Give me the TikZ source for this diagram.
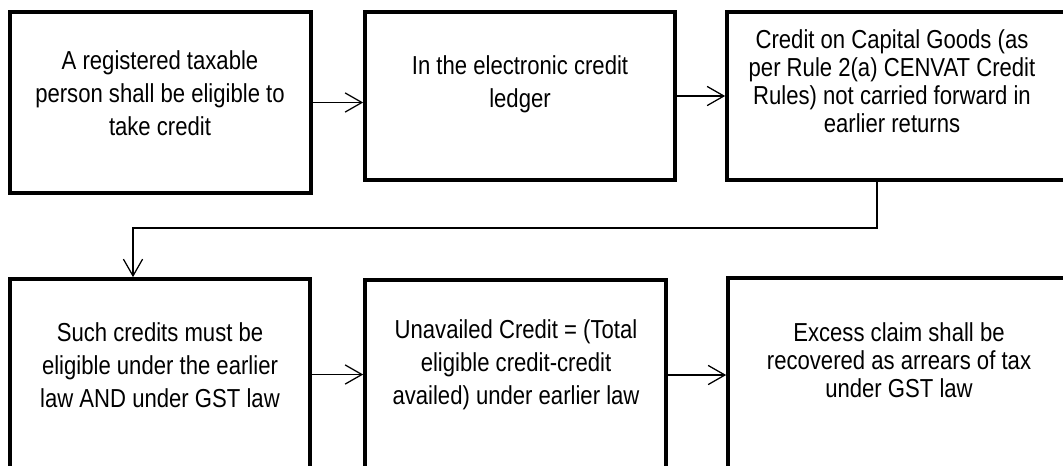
\documentclass[tikz,border=0pt]{standalone}
\usepackage{fontspec}
\setmainfont{Liberation Sans}[FakeStretch=0.85]
\usepackage{tikz}
\usetikzlibrary{arrows.meta, positioning}

\begin{document}
\begin{tikzpicture}[
    box/.style={draw, line width=2.6pt, rectangle, inner sep=0pt},
    txt/.style={align=center, font=\fontsize{18.5}{23.5}\selectfont},
    txtn/.style={align=center, font=\fontsize{18.5}{19.8}\selectfont},
    flow/.style={line width=0.9pt, -{Straight Barb[length=4.2mm, width=4.8mm, line width=0.9pt]}}
]
    \useasboundingbox (0,0) rectangle (26.575,-11.625);
    \clip (0,0) rectangle (26.575,-11.625);

    % Boxes
    \node[box, minimum width=7.525cm, minimum height=4.525cm] (b1) at (4.0125, -2.5625) {};
    \node[box, minimum width=7.75cm, minimum height=4.2cm] (b2) at (13.0, -2.4) {};
    \node[box, minimum width=8.7cm, minimum height=4.2cm] (b3) at (22.525, -2.4) {};
    \node[box, minimum width=7.5cm, minimum height=4.775cm] (b4) at (4.0, -9.3625) {};
    \node[box, minimum width=7.525cm, minimum height=4.75cm] (b5) at (12.8875, -9.375) {};
    \node[box, minimum width=8.675cm, minimum height=4.8cm] (b6) at (22.5375, -9.35) {};

    % Texts
    \node[txt] (t1) at (4.0, -2.325) {A registered taxable\\person shall be eligible to\\take credit};
    \node[txt] (t2) at (13.0, -2.1) {In the electronic credit\\ledger};
    \node[txtn] (t3) at (22.3, -2.025) {Credit on Capital Goods (as\\per Rule 2(a) CENVAT Credit\\Rules) not carried forward in\\earlier returns};
    \node[txt] (t4) at (4.0, -9.125) {Such credits must be\\eligible under the earlier\\law AND under GST law};
    \node[txt] (t5) at (12.9, -9.125) {Unavailed Credit = (Total\\eligible credit-credit\\availed) under earlier law};
    \node[txtn] (t6) at (22.475, -9.0) {Excess claim shall be\\recovered as arrears of tax\\under GST law};

    % Arrows
    \coordinate (k1) at (21.925, -5.7);
    \coordinate (k2) at (3.325, -5.7);
    \draw[flow] (b1.east) -- (b1.east -| b2.west);
    \draw[flow] (b2.east) -- (b2.east -| b3.west);
    \draw[flow] (b3.south -| k1) -- (k1) -- (k2) -- (k2 |- b4.north);
    \draw[flow] (b4.east) -- (b4.east -| b5.west);
    \draw[flow] (b5.east) -- (b5.east -| b6.west);
\end{tikzpicture}
\end{document}
